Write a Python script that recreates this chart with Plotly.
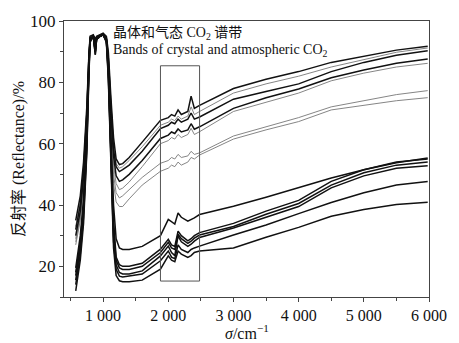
import plotly.graph_objects as go

# shared wavenumber grid (cm^-1)
wavenumber = [580, 650, 700, 750, 780, 800, 850, 880, 900, 950, 1000, 1050, 1080, 1120, 1160, 1200,
              1250, 1300, 1400, 1600, 1880, 2000, 2050, 2100, 2150, 2200, 2300, 2350, 2400, 2480,
              3000, 3500, 4000, 4500, 5000, 5500, 5980]

# upper group of spectra (reflectance, %)
u1 = [35, 43, 54, 72, 88, 95, 95.5, 94, 95, 95.5, 96, 95, 90, 75, 62, 55, 53.2, 53.5, 55.5, 60.5, 67.6,
      68.5, 69.5, 69, 71, 69.5, 70.5, 75.5, 71.5, 72.5, 78, 81, 83.5, 86.5, 88.5, 90.5, 91.8]
u2 = [33, 41, 52, 71, 88, 95, 95.5, 93, 95, 95.5, 96, 95, 89, 74, 60, 53.5, 52, 52.5, 54.5, 59, 66,
      67, 68, 67.5, 69, 68, 69, 72, 69.5, 70.5, 76.5, 79.5, 82, 85, 87.5, 89.8, 91.2]
u3 = [32, 40, 51, 70, 87, 94.5, 95, 92, 94.5, 95, 95.5, 94.5, 88, 72, 58, 52.5, 50.9, 51.5, 53, 57.5, 64.9,
      66, 67, 66.5, 68, 67, 68, 70, 68, 68.7, 74.5, 77, 79.5, 83.5, 86.5, 88.8, 90.3]
u4 = [30, 38, 49, 69, 87, 94.5, 95, 90, 94.5, 95, 95.5, 94, 87, 70, 56, 49.5, 47.7, 48.2, 50, 54.5, 61.7,
      62.8, 63.8, 63.3, 64.8, 63.8, 64.5, 66.5, 64.7, 65.5, 71.5, 75, 77.8, 81.5, 84, 86.2, 87.6]
u5 = [29, 37, 48, 68, 86, 94, 95, 91, 94, 95, 95.5, 94, 86, 68, 53, 47, 45, 45.5, 47.5, 52.5, 60,
      61, 62, 61.5, 63, 62, 63, 65, 63, 63.9, 70.5, 73.5, 76.5, 80.5, 83, 85, 86.2]
u6 = [28, 36, 47, 67, 86, 94, 95, 92, 94, 95, 95.5, 94, 85, 66, 50, 44, 42.3, 43, 45, 49, 53.6,
      54.5, 55.5, 55, 56.5, 55.5, 56, 57.5, 56.5, 57, 62.5, 65.5, 68.5, 72, 74, 76, 77.3]
u7 = [27, 35, 46, 66, 85, 94, 95, 91, 94, 95, 95.5, 94, 84, 63, 47, 41, 39.5, 39.5, 42, 46.5, 51,
      52, 53, 52.5, 54, 53, 54, 55.5, 55, 56.3, 61.5, 64.5, 67.2, 71, 72.5, 74, 75]

# lower group of spectra (reflectance, %)
l1 = [19.5, 30, 42, 64, 85, 94, 95, 92, 94.5, 95, 95.5, 94, 86, 62, 40, 29, 26, 25.5, 25.5, 26.5, 30,
      35.3, 34.5, 33.8, 37.4, 36, 34.7, 35.2, 35.8, 36.9, 39.6, 42.5, 45.6, 48.8, 51.5, 53.8, 55.3]
l2 = [18, 28, 40, 62, 84, 94, 95, 91, 94.5, 95, 95.5, 94, 85, 58, 35, 23, 20.5, 20, 20, 21, 25.6,
      28.8, 27, 26.5, 31.5, 30, 28.3, 29, 30, 31, 34, 38, 41.5, 47.7, 51.5, 54, 55]
l3 = [17, 27, 39, 61, 84, 94, 95, 90, 94, 95, 95.5, 93.5, 84, 56, 32, 22, 19.5, 19, 19, 20, 24.5,
      27.8, 26, 25.5, 30.5, 29, 27.5, 28.2, 29.2, 30.2, 33, 37, 40.5, 46.5, 50.5, 53, 54]
l4 = [15.5, 26, 38, 60, 83, 93.5, 95, 89, 94, 95, 95.5, 93.5, 83, 54, 30, 20.5, 18, 17.5, 17.5, 18.5, 23.4,
      26.6, 24.5, 23.5, 29.9, 28, 26.5, 27.2, 28.2, 29.4, 32.5, 36, 39.5, 45.6, 49.5, 52, 52.8]
l5 = [14, 24, 36, 58, 82, 93.5, 95, 90, 94, 95, 95.5, 93.5, 82, 52, 28, 19, 16.8, 16.5, 16.8, 17.5, 21.8,
      25, 23, 22.5, 27, 25.5, 24.5, 25.5, 26, 26.6, 30.2, 33.5, 37.2, 40.8, 44, 46.5, 47.7]
l6 = [12, 22, 34, 57, 81, 93, 95, 89, 94, 95, 95.5, 93, 81, 50, 26, 17, 15.3, 15, 15, 15.5, 19.1,
      23.4, 22, 21.5, 25, 24, 22.9, 23.5, 24.5, 25, 26, 29.5, 32.7, 36.3, 38.5, 40.2, 40.9]

dark_series = [u1, u3, u4, l1, l2, l3, l4, l5, l6]
gray_series = [u2, u5, u6, u7]

x_tickvals = [1000, 2000, 3000, 4000, 5000, 6000]
x_ticktext = ["1 000", "2 000", "3 000", "4 000", "5 000", "6 000"]
y_tickvals = [20, 40, 60, 80, 100]

band_box = dict(x0=1880, x1=2480, y0=15.2, y1=85.4)

serif = '"Liberation Serif", "Noto Sans CJK SC", serif'

fig = go.Figure()
for s in gray_series:
    fig.add_trace(go.Scatter(x=wavenumber, y=s, mode="lines",
                             line=dict(color="#777777", width=0.9), showlegend=False))
for s in dark_series:
    fig.add_trace(go.Scatter(x=wavenumber, y=s, mode="lines",
                             line=dict(color="#111111", width=1.5), showlegend=False))

fig.add_shape(type="rect", xref="x", yref="y", **band_box,
              line=dict(color="#555555", width=1))

fig.add_annotation(x=0.13, y=0.955, xref="paper", yref="paper", xanchor="left", yanchor="middle",
                   text="晶体和气态 CO<sub>2</sub> 谱带", showarrow=False,
                   font=dict(family=serif, size=14, color="#111"))
fig.add_annotation(x=0.13, y=0.893, xref="paper", yref="paper", xanchor="left", yanchor="middle",
                   text="Bands of crystal and atmospheric CO<sub>2</sub>", showarrow=False,
                   font=dict(family=serif, size=14, color="#111"))
fig.add_annotation(x=0.5, y=-0.082, xref="paper", yref="paper", xanchor="center", yanchor="top",
                   text="<i>σ</i>/cm<sup>−1</sup>", showarrow=False,
                   font=dict(family=serif, size=16, color="#111"))

fig.update_layout(
    width=459, height=343,
    margin=dict(l=64, r=20, t=20, b=46),
    paper_bgcolor="white", plot_bgcolor="white",
    font=dict(family=serif, size=16, color="#111"),
)
fig.update_xaxes(range=[400, 6000], tickvals=x_tickvals, ticktext=x_ticktext,
                 showline=True, mirror=True, linecolor="#444", linewidth=1,
                 ticks="outside", ticklen=4, tickcolor="#444", showgrid=False, zeroline=False,
                 minor=dict(dtick=500, tick0=0, ticks="outside", ticklen=3, tickcolor="#444", showgrid=False),
                 tickfont=dict(family=serif, size=16))
fig.update_yaxes(range=[10, 100], tickvals=y_tickvals,
                 showline=True, mirror=True, linecolor="#444", linewidth=1,
                 ticks="outside", ticklen=4, tickcolor="#444", showgrid=False, zeroline=False,
                 minor=dict(dtick=10, tick0=0, ticks="outside", ticklen=3, tickcolor="#444", showgrid=False),
                 tickfont=dict(family=serif, size=17),
                 title=dict(text="反射率 (Reflectance)/%", font=dict(family=serif, size=16), standoff=1))

fig.write_html("out.html")
